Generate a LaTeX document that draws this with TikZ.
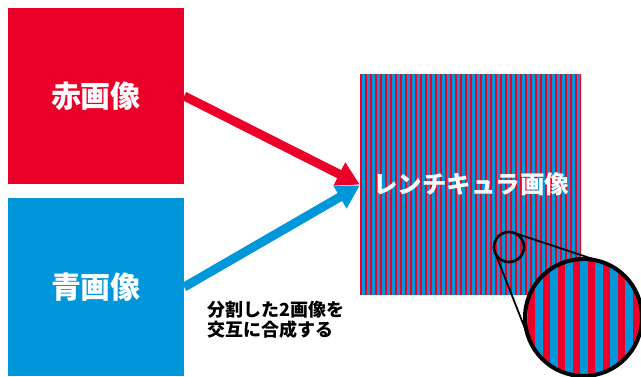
\documentclass[tikz,border=0pt]{standalone}
\usepackage{fontspec}
\setmainfont{Noto Sans CJK JP}
\usetikzlibrary{arrows.meta,calc}
\definecolor{lred}{RGB}{235,0,41}
\definecolor{lblue}{RGB}{0,150,218}
\tikzset{
  imgbox/.style={rectangle, inner sep=0pt, minimum width=176pt, text=white,
    font=\fontsize{30}{36}\selectfont\bfseries},
  bigarrow/.style={line width=9pt, -{Triangle[length=23pt,width=25pt]}},
  lensring/.style={draw=black, line width=2.6pt},
  lensline/.style={draw=black, line width=1.8pt},
}
\begin{document}
\begin{tikzpicture}[x=1pt,y=-1pt]
\useasboundingbox (0,0) rectangle (641,376);
% source images
\node[imgbox, fill=lred, minimum height=176pt] (red) at (96,96) {赤画像};
\node[imgbox, fill=lblue, minimum height=178pt] (blue) at (96,287) {青画像};
% lenticular image
\node[rectangle, inner sep=0pt, minimum width=221pt, minimum height=221pt] (lent) at (470.5,184.5) {};
\begin{scope}
  \clip (lent.north west) rectangle (lent.south east);
  \fill[lblue] (lent.north west) rectangle (lent.south east);
  \foreach \i in {0,...,44}
    \fill[lred] ($(lent.north west)+(\i*5,0)$) rectangle ++(2.5,221);
\end{scope}
\node[text=white, inner sep=0pt, font=\fontsize{24.5}{30}\selectfont\bfseries] (ltext) at (471,184) {レンチキュラ画像};
% arrows
\begin{scope}
  \clip (150,0) rectangle (400,184.4);
  \draw[bigarrow, lred] (red.east) -- (lent.west);
\end{scope}
\begin{scope}
  \clip (150,185.6) rectangle (400,376);
  \draw[bigarrow, lblue] (blue.east) -- ($(lent.west)+(0,1)$);
\end{scope}
% caption
\node[anchor=north west, inner sep=0pt, align=left,
  font=\fontsize{18}{19.5}\selectfont\bfseries] (cap) at (207,301) {分割した2画像を\\交互に合成する};
% magnifier
\node[circle, inner sep=0pt, minimum size=30pt, lensring] (small) at (509,247) {};
\node[circle, inner sep=0pt, minimum size=117pt] (big) at (583.5,317.5) {};
\coordinate (s1) at (495.04,252.50);
\coordinate (b1) at (529.07,338.94);
\coordinate (s2) at (513.71,232.76);
\coordinate (b2) at (601.87,261.96);
\draw[lensline] (s1) -- (b1);
\draw[lensline] (s2) -- (b2);
\begin{scope}
  \clip (big.center) circle (58.5);
  \fill[lblue] (520,255) rectangle (650,380);
  \foreach \i in {0,...,8}
    \fill[lred] (527.5+\i*15,255) rectangle ++(7.5,125);
\end{scope}
\draw[black, line width=4pt] (big.center) circle (58.5);
\end{tikzpicture}
\end{document}
